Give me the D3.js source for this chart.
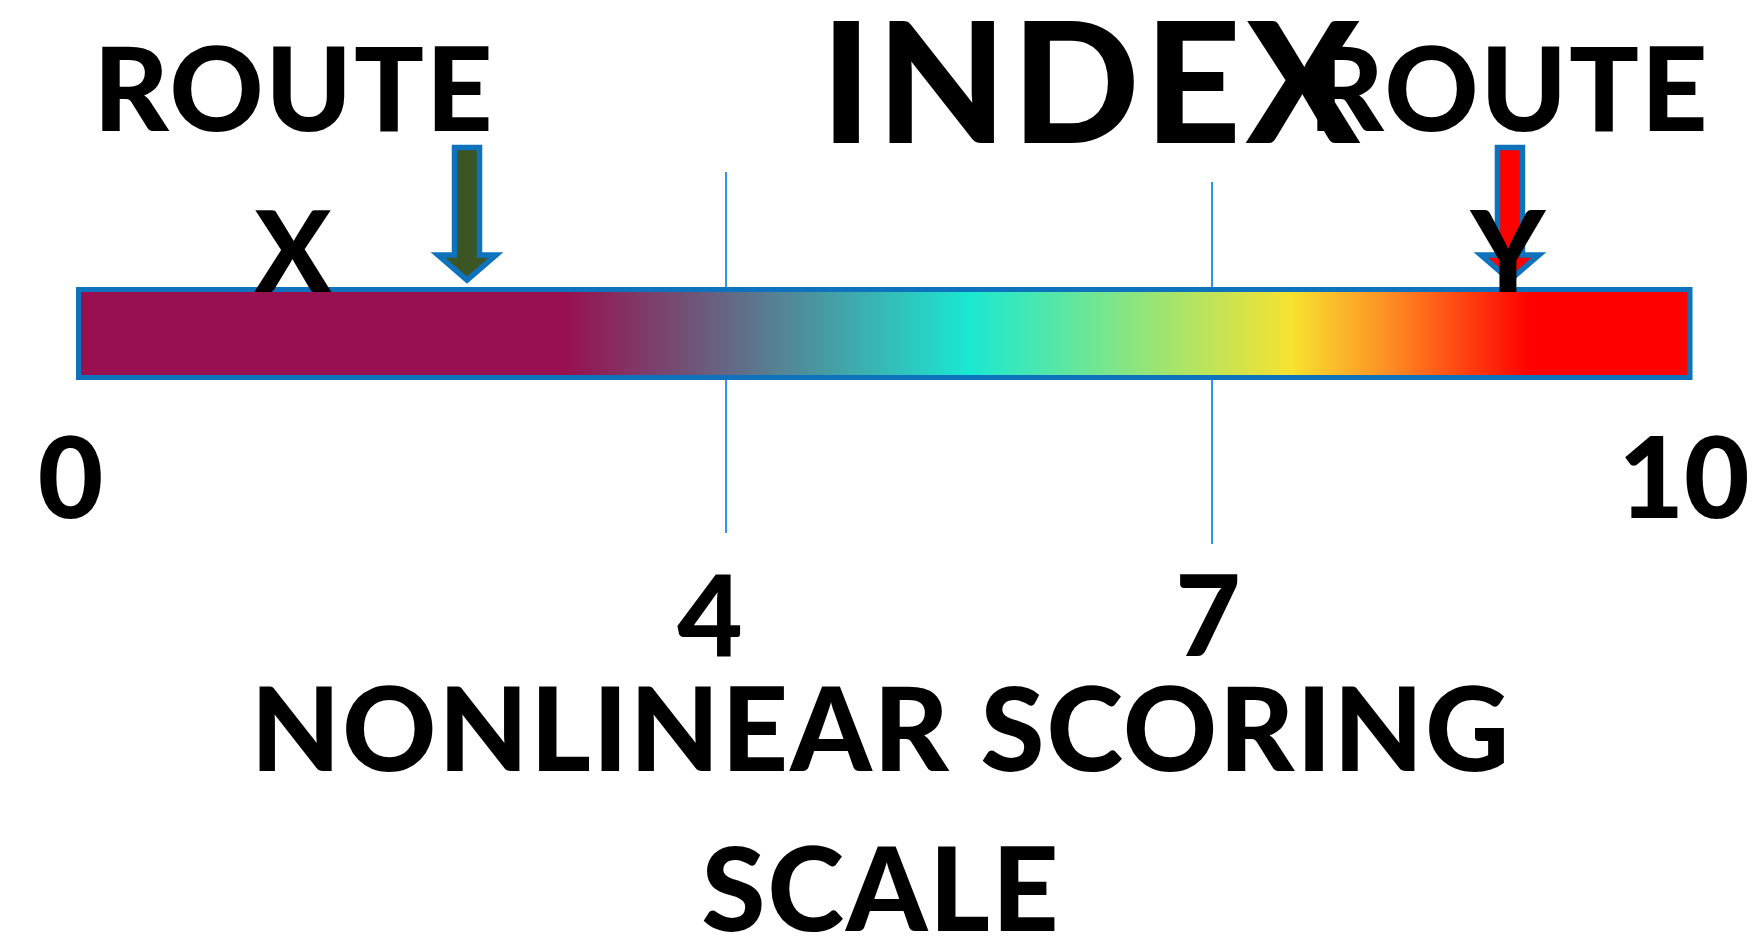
<!DOCTYPE html>
<html>
<head>
<meta charset="utf-8">
<script src="https://cdn.jsdelivr.net/npm/d3@7"></script>
<style>
  body { margin: 0; background: #fff; }
  text { font-family: Lato, "Noto Sans", sans-serif; font-weight: 900; fill: #000; }
</style>
</head>
<body>
<div id="vis"></div>
<script>
// scale values and labels
const TICK_VALUES = [0, 4, 7, 10];
const TICK_LABELS = ["0", "4", "7", "10"];

// routes and where they score
const ROUTE_NAMES = ["X", "Y"];
const ROUTE_SCORES = [2.4, 8.87];
const ROUTE_COLORS = ["#3c5524", "#ff0000"];

// colour ramp of the bar, given in score units
const RAMP_SCORES = [0, 3, 5.5, 7.5, 8.1, 9, 10];
const RAMP_COLORS = ["#98104f", "#98104f", "#1ae8d2", "#f7e22f", "#fd8f24", "#ff0000", "#ff0000"];

const TITLE = "INDEX";
const SUBTITLE = ["NONLINEAR SCORING", "SCALE"];

const FRAME_WIDTH = 1758;
const FRAME_HEIGHT = 940;
const BAR = {top: 289.5, height: 88};
const BLUE = "#0e72bc";

const FRAME = d3.select("#vis")
    .append("svg")
      .attr("width", FRAME_WIDTH)
      .attr("height", FRAME_HEIGHT);

// nonlinear (piecewise) scale: each segment gets its own width
const X_SCALE = d3.scaleLinear()
    .domain(TICK_VALUES)
    .range([78.5, 726, 1212, 1690]);

const x0 = X_SCALE(0), x10 = X_SCALE(10);

// gradient for the bar
const grad = FRAME.append("defs").append("linearGradient")
    .attr("id", "ramp")
    .attr("gradientUnits", "userSpaceOnUse")
    .attr("x1", x0).attr("x2", x10)
    .attr("y1", 0).attr("y2", 0);

grad.selectAll("stop")
    .data(RAMP_SCORES)
    .enter()
    .append("stop")
      .attr("offset", (d) => { return (X_SCALE(d) - x0) / (x10 - x0); })
      .attr("stop-color", (d, i) => { return RAMP_COLORS[i]; });

// thin guide lines for the inner ticks (drawn under the bar)
const LINE_EXTENT = {4: [172, 533], 7: [182, 544]};
FRAME.selectAll(".guide")
    .data(TICK_VALUES.slice(1, -1))
    .enter()
    .append("line")
      .attr("class", "guide")
      .attr("x1", (d) => { return X_SCALE(d); })
      .attr("x2", (d) => { return X_SCALE(d); })
      .attr("y1", (d) => { return LINE_EXTENT[d][0]; })
      .attr("y2", (d) => { return LINE_EXTENT[d][1]; })
      .attr("stroke", "#2a98e4")
      .attr("stroke-width", 2);

// the bar
FRAME.append("rect")
    .attr("x", x0)
    .attr("y", BAR.top)
    .attr("width", x10 - x0)
    .attr("height", BAR.height)
    .attr("fill", "url(#ramp)")
    .attr("stroke", BLUE)
    .attr("stroke-width", 5);

// tick labels
const LABEL_DX = [-8, -16, -4, -6];
const LABEL_Y = [518, 656, 656, 518];
FRAME.selectAll(".tick-label")
    .data(TICK_VALUES)
    .enter()
    .append("text")
      .attr("class", "tick-label")
      .attr("x", (d, i) => { return X_SCALE(d) + LABEL_DX[i]; })
      .attr("y", (d, i) => { return LABEL_Y[i]; })
      .attr("text-anchor", "middle")
      .attr("font-size", 113)
      .text((d, i) => { return TICK_LABELS[i]; });

// arrows pointing at each route's score
function arrowPath(cx) {
    const top = 147.5, headTop = 255, tip = 280, sw = 12.5, hw = 29;
    return "M" + (cx - sw) + "," + top +
           "L" + (cx + sw) + "," + top +
           "L" + (cx + sw) + "," + headTop +
           "L" + (cx + hw) + "," + headTop +
           "L" + cx + "," + tip +
           "L" + (cx - hw) + "," + headTop +
           "L" + (cx - sw) + "," + headTop + "Z";
}

FRAME.selectAll(".arrow")
    .data(ROUTE_SCORES)
    .enter()
    .append("path")
      .attr("class", "arrow")
      .attr("d", (d) => { return arrowPath(X_SCALE(d)); })
      .attr("fill", (d, i) => { return ROUTE_COLORS[i]; })
      .attr("stroke", BLUE)
      .attr("stroke-width", 5.5)
      .attr("stroke-linejoin", "miter");

// route headings and letters
const ROUTE_LABEL_X = [293, 1508];
FRAME.selectAll(".route-word")
    .data(ROUTE_NAMES)
    .enter()
    .append("text")
      .attr("class", "route-word")
      .attr("x", (d, i) => { return ROUTE_LABEL_X[i] + 1; })
      .attr("y", 131)
      .attr("text-anchor", "middle")
      .attr("font-size", 116)
      .attr("letter-spacing", 2)
      .text("ROUTE");

FRAME.selectAll(".route-name")
    .data(ROUTE_NAMES)
    .enter()
    .append("text")
      .attr("class", "route-name")
      .attr("x", (d, i) => { return ROUTE_LABEL_X[i]; })
      .attr("y", 292)
      .attr("text-anchor", "middle")
      .attr("font-size", 113)
      .text((d) => { return d; });

// title
FRAME.append("text")
    .attr("x", 1093)
    .attr("y", 143)
    .attr("text-anchor", "middle")
    .attr("font-size", 168)
    .attr("letter-spacing", 5)
    .text(TITLE);

// axis caption
FRAME.selectAll(".caption")
    .data(SUBTITLE)
    .enter()
    .append("text")
      .attr("class", "caption")
      .attr("x", 881)
      .attr("y", (d, i) => { return 771 + i * 160; })
      .attr("text-anchor", "middle")
      .attr("font-size", 116)
      .attr("letter-spacing", 2)
      .text((d) => { return d; });
</script>
</body>
</html>
